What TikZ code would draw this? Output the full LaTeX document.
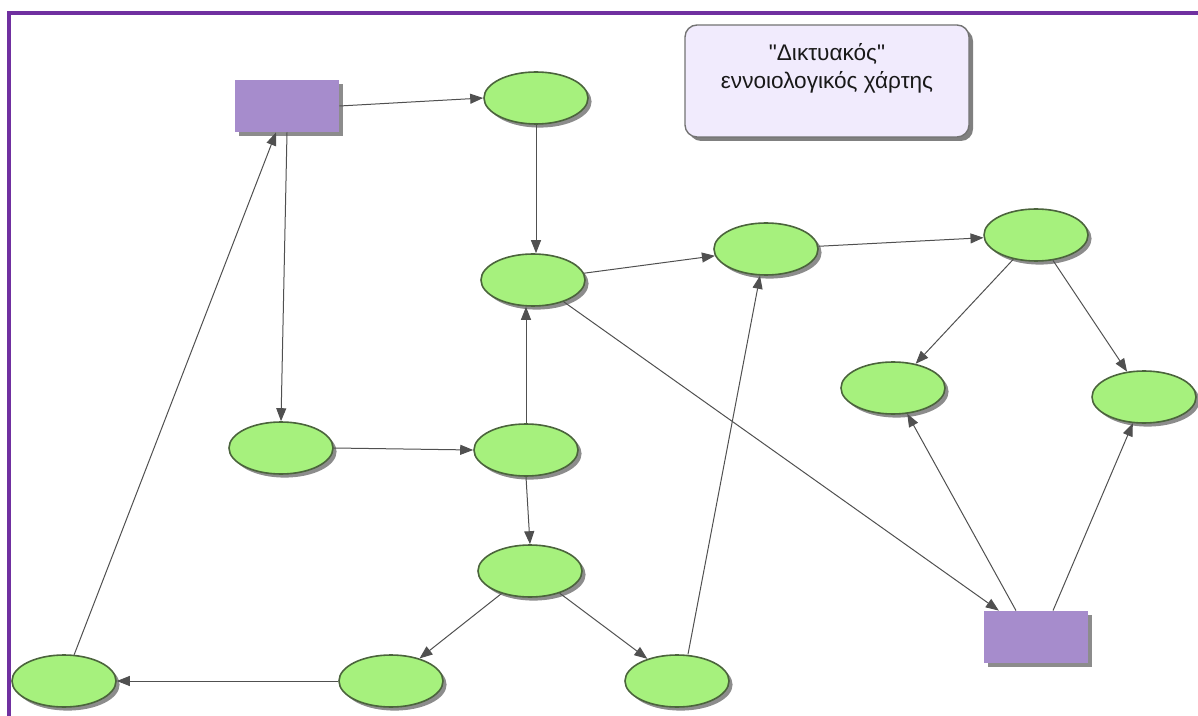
\documentclass[tikz,border=0pt]{standalone}
\usepackage{fontspec}
\setmainfont{Liberation Sans}
\newfontfamily\titlefont{Liberation Sans}
\usetikzlibrary{shapes.geometric,arrows.meta,shadows}
\definecolor{framepurple}{RGB}{112,48,160}
\definecolor{leafgreen}{RGB}{166,241,125}
\definecolor{leafedge}{RGB}{75,100,60}
\definecolor{boxviolet}{RGB}{166,140,204}
\definecolor{titlefill}{RGB}{241,235,253}
\definecolor{linkgray}{RGB}{80,80,80}
\tikzset{
  concept/.style={ellipse, draw=leafedge, line width=0.8pt, fill=leafgreen,
    minimum width=52pt, minimum height=26pt, inner sep=0pt,
    drop shadow={shadow xshift=1.8pt, shadow yshift=-1.8pt, fill=black!45, opacity=1}},
  hub/.style={rectangle, fill=boxviolet, minimum width=52pt, minimum height=26pt, inner sep=0pt,
    drop shadow={shadow xshift=1.8pt, shadow yshift=-1.8pt, fill=black!45, opacity=1}},
  titlebox/.style={rectangle, rounded corners=6pt, draw=black!55, line width=0.7pt, fill=titlefill,
    minimum width=142pt, minimum height=56pt,
    drop shadow={shadow xshift=2pt, shadow yshift=-2pt, fill=black!50, opacity=1}},
  titletext/.style={align=center, text=black!90, inner sep=0pt,
    font=\titlefont\fontsize{11.3}{14}\selectfont},
  link/.style={draw=linkgray, line width=0.5pt, -{Triangle[length=6.5pt,width=5pt]}},
  frameline/.style={draw=framepurple, line width=2pt}
}
\begin{document}
\begin{tikzpicture}[x=0.5pt, y=-0.5pt]
  \useasboundingbox (0,0) rectangle (1198,716);
  % frame on the top and left edges
  \draw[frameline] (8.5,716) -- (8.5,13) -- (1198,13);

  % title
  \node[titlebox] (title) at (827,81) {};
  \node[titletext] (titlelabel) at (827,68) {"Δικτυακός"\\εννοιολογικός χάρτης};

  % rectangular hubs
  \node[hub] (R1) at (287,106) {};
  \node[hub] (R2) at (1036,637) {};

  % elliptical concepts
  \node[concept] (E1) at (536,98) {};
  \node[concept] (E2) at (533,280) {};
  \node[concept] (E3) at (766,249) {};
  \node[concept] (E4) at (1036,235) {};
  \node[concept] (E5) at (893,388) {};
  \node[concept] (E6) at (1144,397) {};
  \node[concept] (E7) at (281,448) {};
  \node[concept] (E8) at (526,450) {};
  \node[concept] (E9) at (530,571) {};
  \node[concept] (E10) at (64,681) {};
  \node[concept] (E11) at (391,681) {};
  \node[concept] (E12) at (677,681) {};

  % links
  \draw[link] (R1.east) -- (E1.west);
  \draw[link] (E1.south) -- (E1.south |- E2.north);
  \draw[link] (R1.south) -- (E7.north);
  \draw[link] (E10) -- ([xshift=-5.5pt]R1.south);
  \draw[link] (E7.east) -- (E8.west);
  \draw[link] (E8.north) -- (E8.north |- E2.south);
  \draw[link] (E8.south) -- (E9.north);
  \draw[link] (E9) -- (E11);
  \draw[link] (E9) -- (E12);
  \draw[link] (E11.west) -- (E10.east);
  \draw[link] ([xshift=5.5pt]E12.north) -- ([xshift=-3pt]E3.south);
  \draw[link] (E2) -- (E3);
  \draw[link] (E3) -- (E4);
  \draw[link] (E2) -- (R2);
  \draw[link] (E4) -- (E5);
  \draw[link] (E4) -- (E6);
  \draw[link] ([xshift=-10pt]R2.north) -- (E5);
  \draw[link] ([xshift=8.5pt]R2.north) -- (E6);
\end{tikzpicture}
\end{document}
